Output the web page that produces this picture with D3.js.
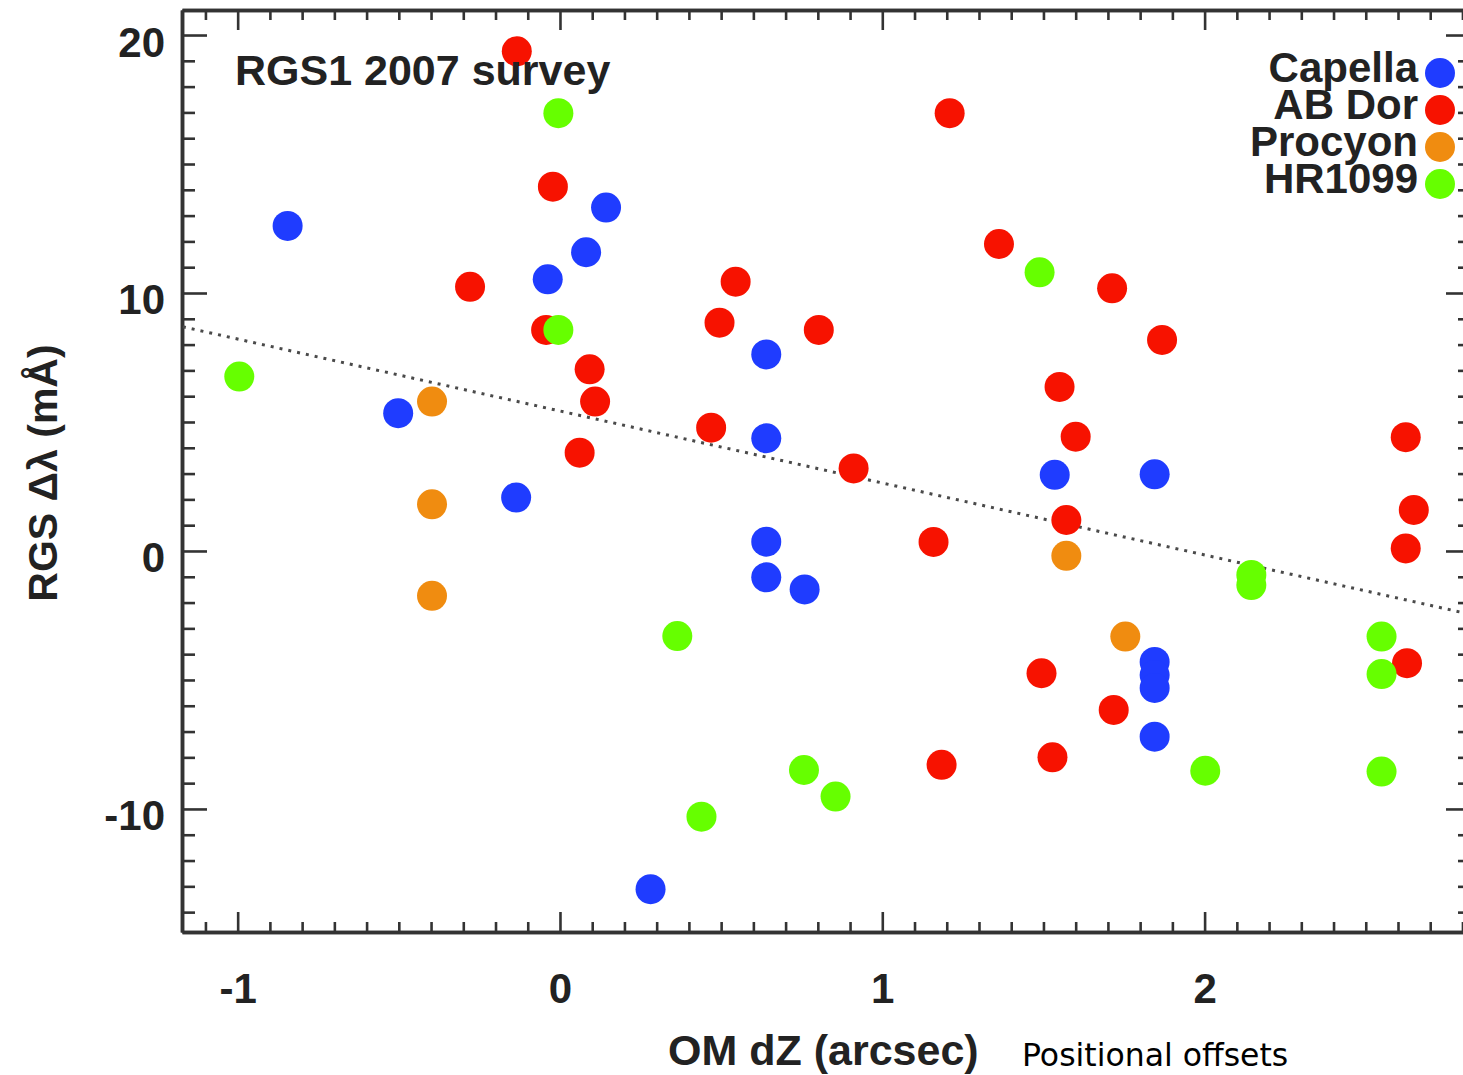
<!DOCTYPE html>
<html>
<head>
<meta charset="utf-8">
<script src="https://cdn.jsdelivr.net/npm/d3@7"></script>
<style>
  html, body { margin: 0; padding: 0; background: #fff; }
  svg { display: block; }
  text { font-family: "Liberation Sans", Arial, Helvetica, sans-serif; }
</style>
</head>
<body>
<svg id="chart" width="1463" height="1075"></svg>
<script>
// ---------- data ----------
const seriesNames = ["Capella", "AB Dor", "Procyon", "HR1099"];
const seriesColors = ["#1f3cff", "#f71200", "#f08c10", "#66ff00"];

const capellaX = [-0.845, -0.502, -0.136, -0.038, 0.081, 0.143, 0.640, 0.640, 0.640, 0.640, 0.759, 0.281, 1.535, 1.845, 1.845, 1.845, 1.845, 1.845];
const capellaY = [12.60, 5.34, 2.07, 10.53, 11.58, 13.31, 7.62, 4.37, 0.36, -1.02, -1.49, -13.11, 2.95, 2.97, -4.30, -4.81, -5.31, -7.20];

const abDorX = [-0.134, -0.022, -0.279, -0.043, 0.092, 0.109, 0.061, 0.545, 0.495, 0.803, 0.469, 0.911, 1.209, 1.362, 1.713, 1.868, 1.550, 1.600, 1.571, 1.159, 1.494, 1.718, 1.528, 1.184, 2.624, 2.649, 2.624, 2.628];
const abDorY = [19.37, 14.12, 10.24, 8.57, 7.04, 5.79, 3.81, 10.44, 8.85, 8.57, 4.78, 3.20, 16.97, 11.90, 10.18, 8.18, 6.36, 4.43, 1.20, 0.35, -4.74, -6.16, -8.00, -8.29, 4.41, 1.59, 0.10, -4.35];

const procyonX = [-0.397, -0.397, -0.397, 1.571, 1.754];
const procyonY = [5.79, 1.81, -1.74, -0.19, -3.32];

const hr1099X = [-0.995, -0.005, -0.005, 0.364, 0.439, 0.757, 0.855, 1.488, 2.145, 2.145, 2.002, 2.549, 2.549, 2.549];
const hr1099Y = [6.76, 16.97, 8.57, -3.30, -10.30, -8.49, -9.52, 10.80, -0.93, -1.32, -8.52, -3.32, -4.77, -8.55];

// dotted linear fit, endpoints read at the plot edges
const fitX = [-1.17, 2.83];
const fitY = [8.69, -2.47];

const xTickLabels = [-1, 0, 1, 2];
const yTickLabels = [-10, 0, 10, 20];
const xDomain = [-1.1727, 2.8265];
const yDomain = [-14.77, 20.97];

const titleText = "RGS1 2007 survey";
const xTitle = "OM dZ (arcsec)";
const xNote = "Positional offsets";
const yTitle = "RGS \u0394\u03bb (m\u00c5)";

// ---------- layout ----------
const padL = 182, padR = 1471, padT = 10, padB = 932;
const svg = d3.select("#chart");

const x = d3.scaleLinear().domain(xDomain).range([padL, padR]);
const y = d3.scaleLinear().domain(yDomain).range([padB, padT]);

const axisColor = "#333";
const textColor = "#222";

const xMinor = d3.range(-11, 29).map(v => v / 10).filter(v => !xTickLabels.includes(v));
const yMinor = d3.range(-14, 21).filter(v => !yTickLabels.includes(v));

function styleAxis(g) {
  g.select(".domain").attr("stroke", axisColor).attr("stroke-width", 3.5);
  g.selectAll(".tick line").attr("stroke", axisColor).attr("stroke-width", 2.6);
}

// bottom axis
svg.append("g").attr("transform", `translate(0,${padB})`)
  .call(d3.axisBottom(x).tickValues(xMinor).tickSize(-10).tickSizeOuter(0).tickFormat(""))
  .call(styleAxis);
const bx = svg.append("g").attr("transform", `translate(0,${padB})`)
  .call(d3.axisBottom(x).tickValues(xTickLabels).tickSize(-20).tickSizeOuter(0).tickPadding(41).tickFormat(d3.format("d")))
  .call(styleAxis);
bx.selectAll("text").attr("font-size", 42).attr("font-weight", "bold").attr("fill", textColor)
  .text(d => d < 0 ? "-" + Math.abs(d) : d);

// top axis
svg.append("g").attr("transform", `translate(0,${padT})`)
  .call(d3.axisTop(x).tickValues(xMinor).tickSize(-10).tickSizeOuter(0).tickFormat(""))
  .call(styleAxis);
svg.append("g").attr("transform", `translate(0,${padT})`)
  .call(d3.axisTop(x).tickValues(xTickLabels).tickSize(-20).tickSizeOuter(0).tickFormat(""))
  .call(styleAxis);

// left axis
svg.append("g").attr("transform", `translate(${padL},0)`)
  .call(d3.axisLeft(y).tickValues(yMinor).tickSize(-13).tickSizeOuter(0).tickFormat(""))
  .call(styleAxis);
const ly = svg.append("g").attr("transform", `translate(${padL},0)`)
  .call(d3.axisLeft(y).tickValues(yTickLabels).tickSize(-25).tickSizeOuter(0).tickPadding(17))
  .call(styleAxis);
ly.selectAll("text").attr("font-size", 42).attr("font-weight", "bold").attr("fill", textColor)
  .attr("dy", "0.5em").text(d => d < 0 ? "-" + Math.abs(d) : d);

// right axis
svg.append("g").attr("transform", `translate(${padR},0)`)
  .call(d3.axisRight(y).tickValues(yMinor).tickSize(-13).tickSizeOuter(0).tickFormat(""))
  .call(styleAxis);
svg.append("g").attr("transform", `translate(${padR},0)`)
  .call(d3.axisRight(y).tickValues(yTickLabels).tickSize(-25).tickSizeOuter(0).tickFormat(""))
  .call(styleAxis);

// fit line
svg.append("line")
  .attr("x1", x(fitX[0])).attr("y1", y(fitY[0]))
  .attr("x2", x(fitX[1])).attr("y2", y(fitY[1]))
  .attr("stroke", "#4a4a4a").attr("stroke-width", 3).attr("stroke-dasharray", "3,6");

// points
const series = [
  { name: seriesNames[0], color: seriesColors[0], xs: capellaX, ys: capellaY },
  { name: seriesNames[1], color: seriesColors[1], xs: abDorX, ys: abDorY },
  { name: seriesNames[2], color: seriesColors[2], xs: procyonX, ys: procyonY },
  { name: seriesNames[3], color: seriesColors[3], xs: hr1099X, ys: hr1099Y }
];
series.forEach(s => {
  svg.append("g").selectAll("circle")
    .data(s.xs.map((v, i) => ({ x: v, y: s.ys[i] })))
    .join("circle")
    .attr("cx", d => x(d.x)).attr("cy", d => y(d.y))
    .attr("r", 15).attr("fill", s.color);
});

// title
svg.append("text").attr("x", 235).attr("y", 85)
  .attr("font-size", 43).attr("font-weight", "bold").attr("fill", textColor)
  .text(titleText);

// legend
const leg = svg.append("g");
series.forEach((s, i) => {
  const by = 82 + i * 37;
  leg.append("text").attr("x", 1418).attr("y", by).attr("text-anchor", "end")
    .attr("font-size", 42).attr("font-weight", "bold").attr("fill", textColor)
    .text(s.name);
  leg.append("circle").attr("cx", 1440).attr("cy", by - 9).attr("r", 15).attr("fill", s.color);
});

// axis titles
svg.append("text").attr("x", 668).attr("y", 1065)
  .attr("font-size", 43).attr("font-weight", "bold").attr("fill", textColor)
  .text(xTitle);
svg.append("text").attr("x", 1022).attr("y", 1066)
  .attr("font-size", 31.5).attr("fill", "#000")
  .style("font-family", "'DejaVu Sans', sans-serif")
  .text(xNote);
svg.append("text").attr("transform", "translate(57,473) rotate(-90)")
  .attr("text-anchor", "middle")
  .attr("font-size", 41).attr("font-weight", "bold").attr("fill", textColor)
  .text(yTitle);
</script>
</body>
</html>
